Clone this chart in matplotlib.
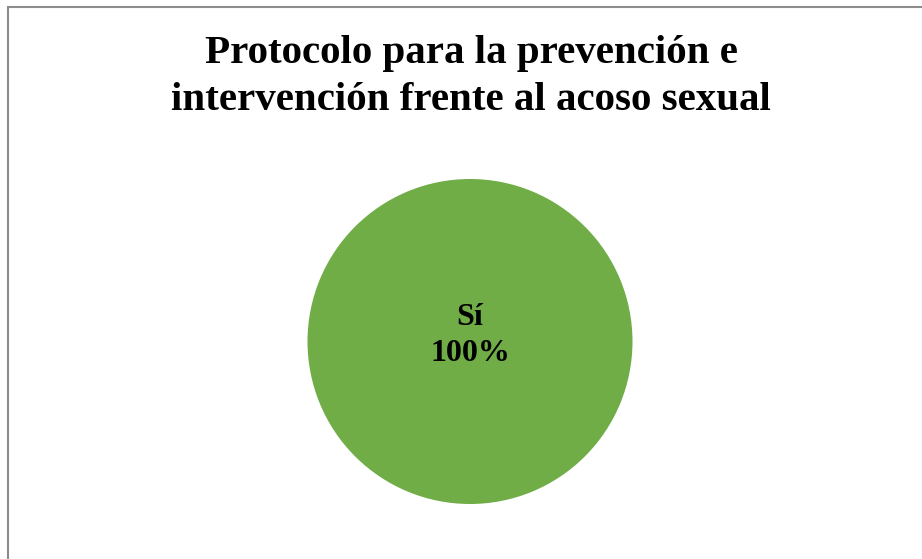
import matplotlib
matplotlib.use('Agg')
import matplotlib.pyplot as plt
from matplotlib.patches import Rectangle

# data
categories = ['Sí']
values = [100]
colors = ['#70AD47']
title = 'Protocolo para la prevención e\nintervención frente al acoso sexual'

W, H = 922, 559
fig = plt.figure(figsize=(W / 100, H / 100), dpi=100)
fig.patch.set_facecolor('white')

# frame (only top and left edges visible in the reference)
fig.patches.append(Rectangle((8 / W, -0.1), 1.2, (H - 7) / H + 0.1,
                             transform=fig.transFigure, fill=False,
                             edgecolor='#8c8c8c', lw=1.5))

fig.text(471 / W, 1 - 77 / H, title, ha='center', va='center',
         family='Liberation Serif', weight='bold', fontsize=29.5,
         linespacing=1.36)

# pie axes: center (470, 341.5), radius 162.5 px
r = 162.5
cx, cy = 470, 341.5
ax = fig.add_axes([(cx - r) / W, 1 - (cy + r) / H, 2 * r / W, 2 * r / H])


def fmt(pct):
    return f'{categories[0]}\n{pct:.0f}%'


wedges, texts, autotexts = ax.pie(values, colors=colors, startangle=90, radius=1,
                                  autopct=fmt, pctdistance=0,
                                  textprops=dict(family='Liberation Serif', weight='bold',
                                                 fontsize=23, color='black',
                                                 linespacing=1.32))
for t in autotexts:
    t.set_position((0, 0.035))
ax.set_xlim(-1, 1)
ax.set_ylim(-1, 1)
ax.set_aspect('equal')
ax.axis('off')

fig.savefig('out.png', dpi=100)
